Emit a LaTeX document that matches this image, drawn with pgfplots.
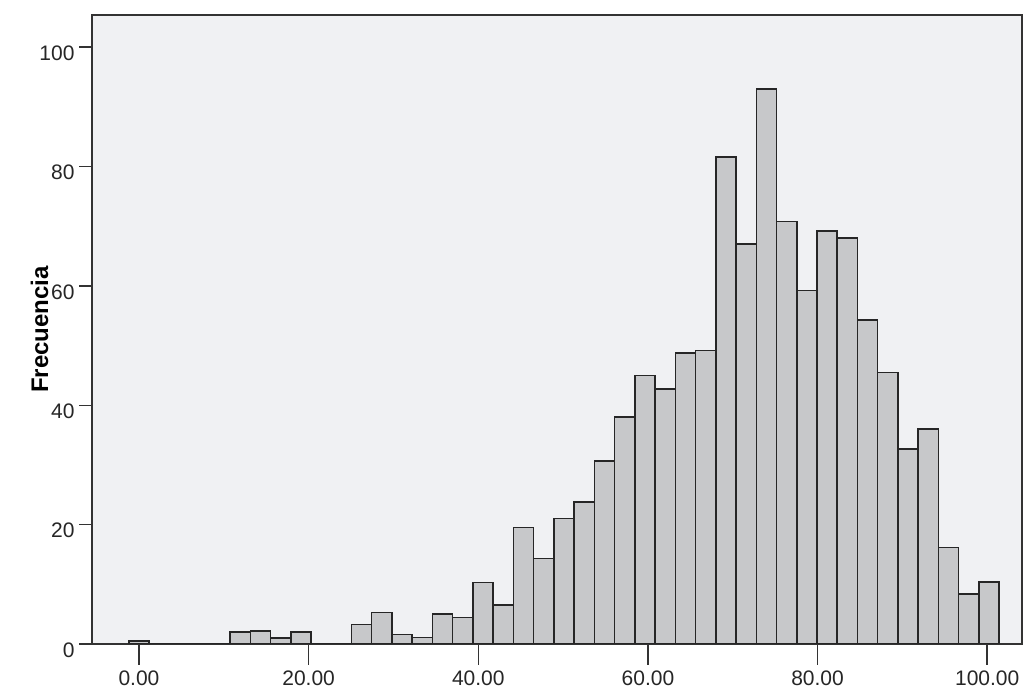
\documentclass[border=0pt]{standalone}
\usepackage{pgfplots}
\pgfplotsset{compat=1.18}
\usepackage{fontspec}
\setmainfont{Liberation Sans}
\definecolor{bg}{HTML}{F0F1F3}
\definecolor{barc}{HTML}{C7C8CA}
\begin{document}
\begin{tikzpicture}
\begin{axis}[name=ax, scale only axis, width=930pt, height=629pt,
  xmin=-5.54, xmax=104.1, ymin=0, ymax=105.4,
  axis background/.style={fill=bg},
  axis line style={black!80, line width=1.5pt},
  xtick={0,20,...,100}, ytick={0,20,...,100},
  xticklabel={\pgfmathprintnumber[fixed,fixed zerofill,precision=2]{\tick}},
  yticklabel={\pgfmathprintnumber[fixed,precision=0]{\tick}},
  /pgf/number format/assume math mode=true,
  tick align=outside, tick pos=left,
  major tick length=13pt,
  tick style={line width=1.5pt, black!80},
  xtick style={/pgfplots/major tick length=21pt},
  ticklabel style={font=\fontsize{21}{24}\selectfont, text=black!85},
  ylabel={\textbf{Frecuencia}},
  every axis y label/.style={at={(axis description cs:0,0.5)}, xshift=-40pt, anchor=south, rotate=90, font=\fontsize{24}{27}\selectfont},
  xticklabel style={yshift=-10pt},
  yticklabel style={yshift=-6pt, xshift=-1pt},
]
\addplot[ybar interval, fill=barc, draw=black!85, line width=1.5pt] table[x=x,y=y]{
x y
-1.193 0.5
1.193 0
3.579 0
5.965 0
8.351 0
10.737 2
13.123 2.2
15.509 1
17.895 2
20.281 0
22.667 0
25.053 3.3
27.439 5.3
29.825 1.6
32.211 1.1
34.597 5
36.983 4.4
39.369 10.3
41.755 6.5
44.141 19.5
46.527 14.3
48.913 21
51.299 23.8
53.685 30.7
56.071 38
58.457 45
60.843 42.7
63.229 48.8
65.615 49.2
68.001 81.6
70.387 67
72.773 93
75.159 70.8
77.545 59.2
79.931 69.2
82.317 68
84.703 54.3
87.089 45.5
89.475 32.7
91.861 36
94.247 16.2
96.633 8.4
99.019 10.4
101.405 10.4
};
\end{axis}
\pgfresetboundingbox
\path ([shift={(-92pt,-55pt)}]ax.south west) rectangle ([shift={(4pt,15pt)}]ax.north east);
\end{tikzpicture}
\end{document}
